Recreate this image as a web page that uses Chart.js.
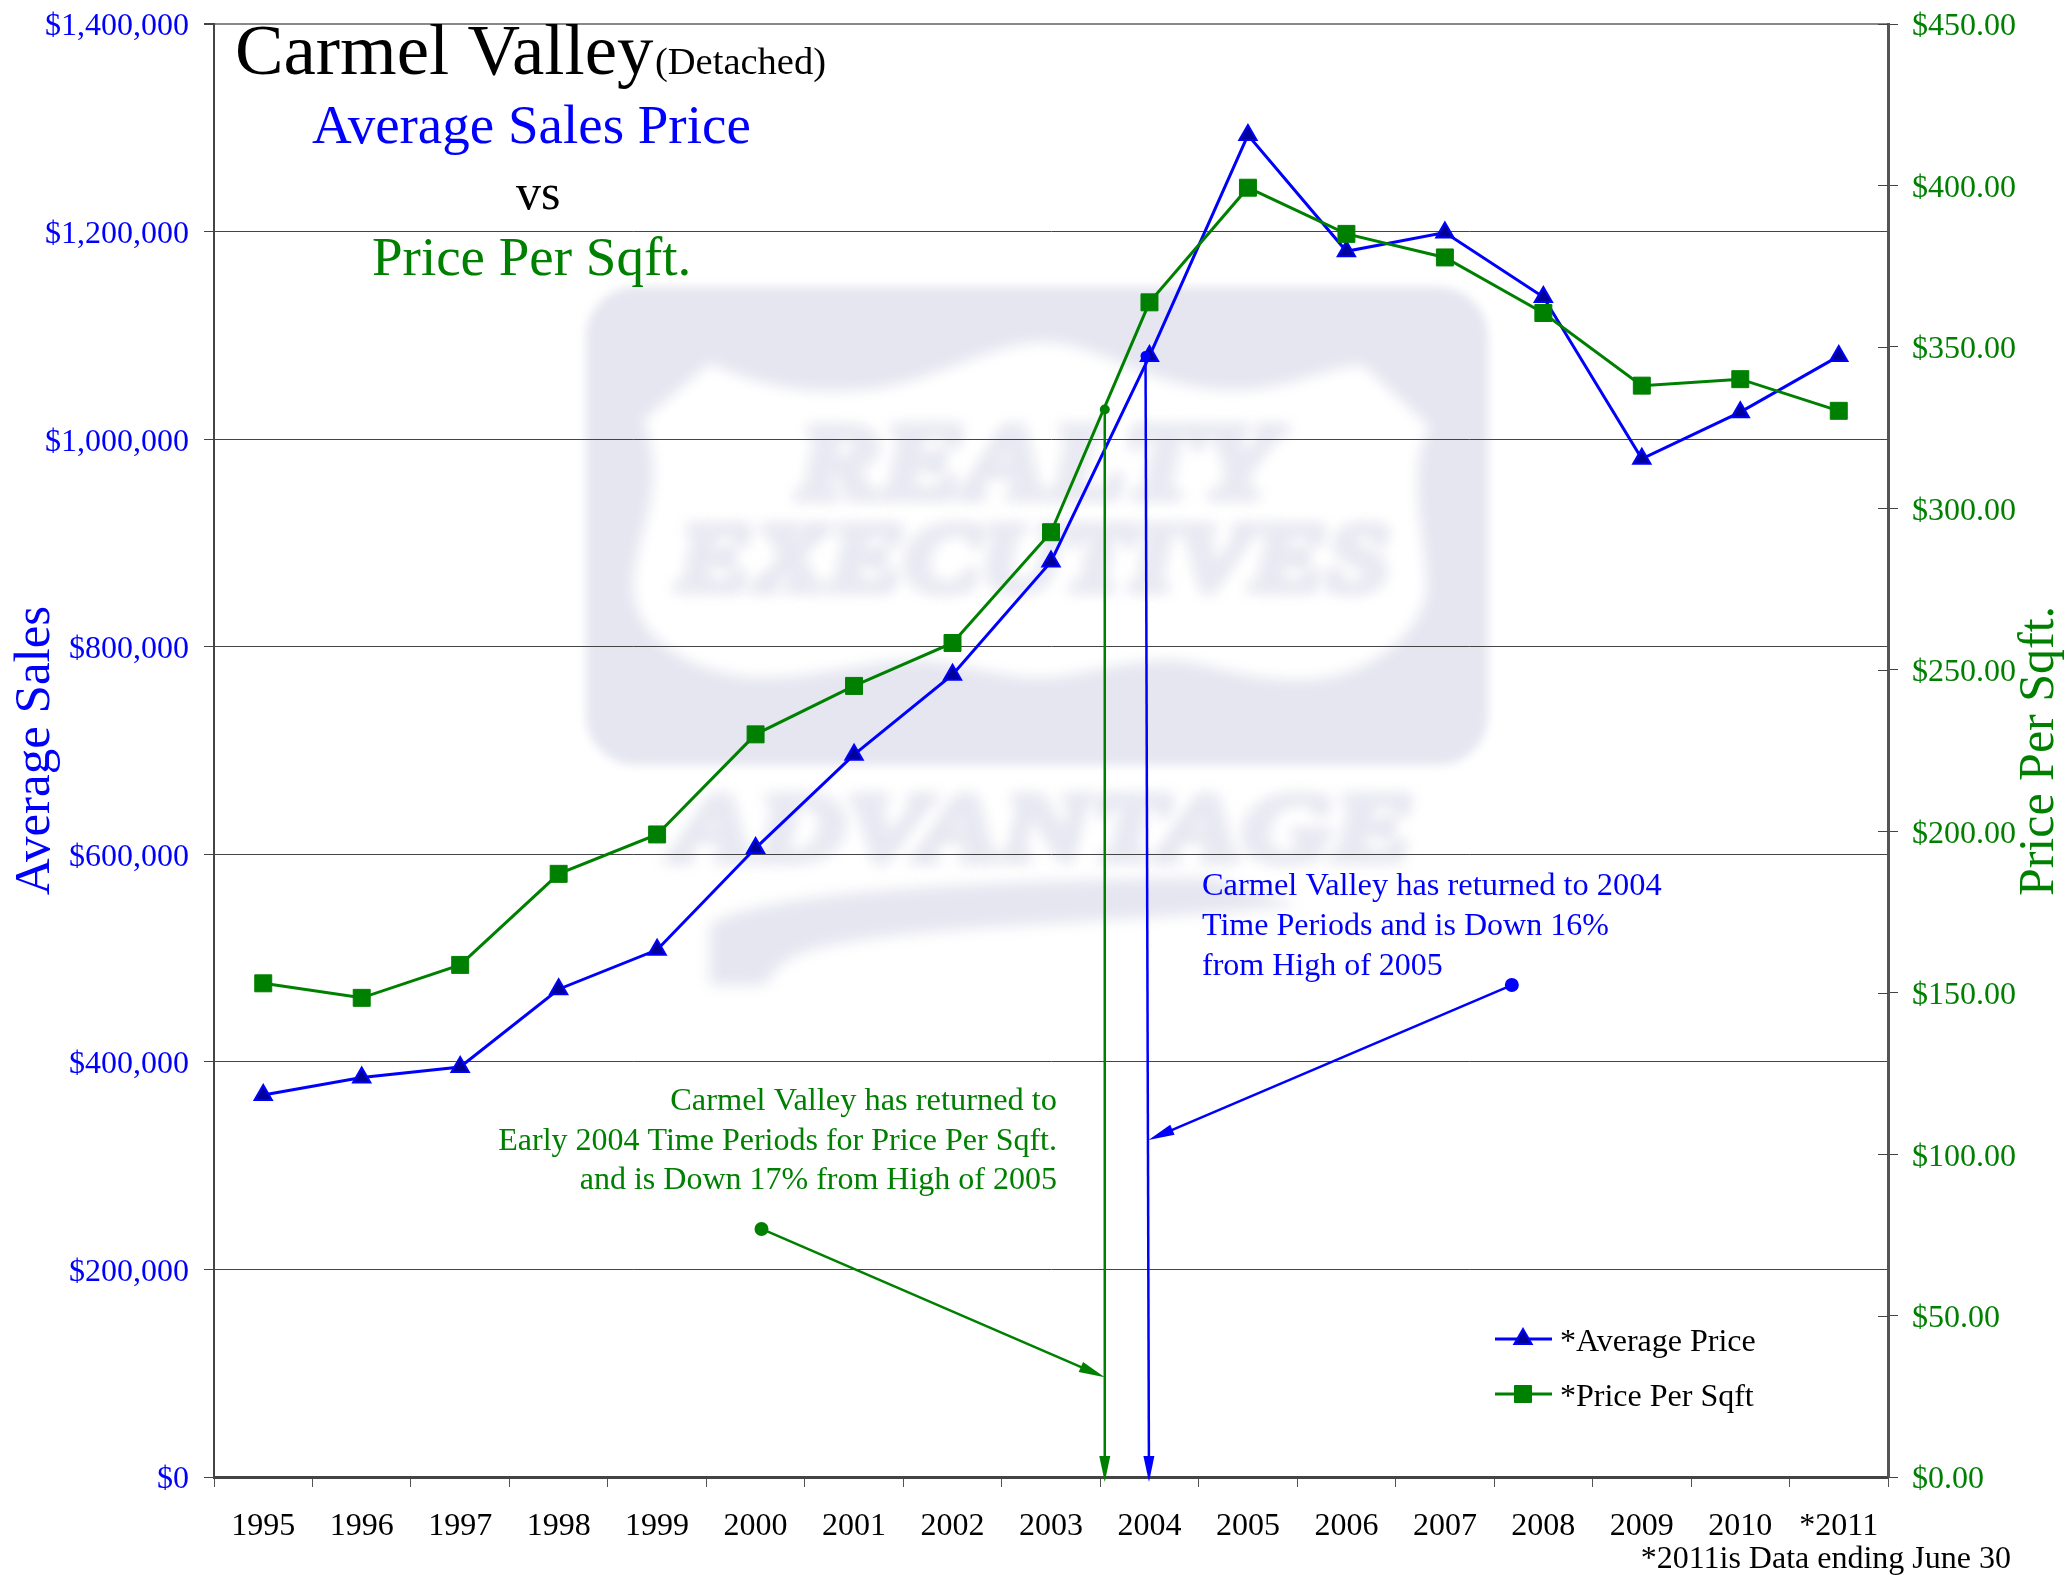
<!DOCTYPE html>
<html lang="en">
<head>
    <meta charset="UTF-8">
    <title>Carmel Valley (Detached)</title>
    <style>
        html, body { margin: 0; padding: 0; background: #fff; }
        canvas { display: block; }
    </style>
    <script src="https://cdn.jsdelivr.net/npm/chart.js"></script>
</head>
<body>
    <canvas id="chart" width="2070" height="1575"></canvas>

    <script>
        const years = ['1995', '1996', '1997', '1998', '1999', '2000', '2001', '2002', '2003', '2004', '2005', '2006', '2007', '2008', '2009', '2010', '*2011'];
        const avgPrice = [368000, 385000, 395000, 470000, 508000, 606000, 696000, 773000, 882000, 1080000, 1293000, 1181000, 1199000, 1137000, 981000, 1026000, 1080000];
        const pricePerSqft = [152.9, 148.4, 158.6, 186.8, 199, 230, 245, 258.3, 292.6, 363.8, 399.3, 385, 377.7, 360.5, 338, 340, 330.2];

        // arrows as [category index, left axis value]
        const greenDiagonal = [[5.06, 239000], [8.546, 96000]];
        const greenVertical = [[8.546, 1028600], [8.546, -4800]];
        const blueDiagonal = [[12.68, 474000], [8.99, 324700]];
        const blueVertical = [[8.96, 1080000], [8.995, -4800]];

        const BLUE = '#0000ff';
        const GREEN = '#008000';
        const SERIF = '"Liberation Serif"';

        // text, x, y, size, color, align
        const labels = [
            ['Carmel Valley', 235, 74, 72.8, '#000', 'left'],
            ['(Detached)', 655, 74, 38.5, '#000', 'left'],
            ['Average Sales Price', 312, 143, 55, BLUE, 'left'],
            ['vs', 516, 209, 50, '#000', 'left'],
            ['Price Per Sqft.', 372, 275, 55, GREEN, 'left'],
            ['Carmel Valley has returned to 2004', 1202, 895, 32.4, BLUE, 'left'],
            ['Time Periods and is Down 16%', 1202, 935, 32, BLUE, 'left'],
            ['from High of 2005', 1202, 975, 32, BLUE, 'left'],
            ['Carmel Valley has returned to', 1057, 1110, 32.4, GREEN, 'right'],
            ['Early 2004 Time Periods for Price Per Sqft.', 1057, 1150, 32, GREEN, 'right'],
            ['and is Down 17% from High of 2005', 1057, 1189, 32, GREEN, 'right'],
            ['*Average Price', 1560, 1351, 32, '#000', 'left'],
            ['*Price Per Sqft', 1560, 1406, 32, '#000', 'left'],
            ['*2011is Data ending June 30', 2011, 1568, 32, '#000', 'right']
        ];

        function drawLogo(ctx) {
            ctx.save();
            ctx.filter = 'blur(5px)';
            ctx.fillStyle = '#e5e6f0';
            ctx.beginPath();
            ctx.roundRect(586, 287, 902, 478, 50);
            ctx.fill();

            // white shield
            ctx.filter = 'blur(7px)';
            ctx.fillStyle = '#fff';
            ctx.beginPath();
            ctx.moveTo(643, 420);
            ctx.lineTo(710, 363);
            ctx.bezierCurveTo(770, 392, 820, 392, 860, 390);
            ctx.bezierCurveTo(930, 385, 990, 342, 1043, 342);
            ctx.bezierCurveTo(1100, 342, 1150, 390, 1233, 390);
            ctx.bezierCurveTo(1290, 390, 1330, 365, 1363, 365);
            ctx.lineTo(1430, 427);
            ctx.bezierCurveTo(1405, 470, 1425, 530, 1427, 587);
            ctx.bezierCurveTo(1425, 630, 1370, 680, 1300, 680);
            ctx.bezierCurveTo(1240, 680, 1210, 662, 1170, 660);
            ctx.bezierCurveTo(1110, 662, 1075, 678, 1040, 678);
            ctx.bezierCurveTo(1000, 678, 960, 662, 915, 660);
            ctx.bezierCurveTo(860, 662, 810, 680, 747, 677);
            ctx.bezierCurveTo(690, 670, 635, 640, 633, 587);
            ctx.bezierCurveTo(635, 530, 670, 490, 643, 420);
            ctx.closePath();
            ctx.fill();

            // logo lettering
            ctx.filter = 'blur(7px)';
            ctx.fillStyle = '#e5e6f0';
            ctx.strokeStyle = '#e5e6f0';
            ctx.lineWidth = 5;
            ctx.textAlign = 'left';
            ctx.textBaseline = 'alphabetic';
            fitText(ctx, 'REALTY', 797, 497, 480, 105);
            fitText(ctx, 'EXECUTIVES', 677, 590, 713, 95);
            fitText(ctx, 'ADVANTAGE', 673, 860, 741, 95);

            // swoosh under the lettering
            ctx.beginPath();
            ctx.moveTo(710, 985);
            ctx.lineTo(710, 925);
            ctx.bezierCurveTo(760, 890, 1000, 880, 1210, 878);
            ctx.lineTo(1300, 905);
            ctx.bezierCurveTo(1100, 925, 900, 925, 810, 950);
            ctx.bezierCurveTo(780, 960, 770, 975, 765, 985);
            ctx.closePath();
            ctx.fill();
            ctx.restore();
        }

        function fitText(ctx, text, x, y, width, size) {
            ctx.font = `italic bold ${size}px ${SERIF}`;
            const w = ctx.measureText(text).width;
            ctx.save();
            ctx.translate(x, y);
            ctx.scale(width / w, 1);
            ctx.strokeText(text, 0, 0);
            ctx.fillText(text, 0, 0);
            ctx.restore();
        }

        function drawArrow(chart, pts, color, startDot, width) {
            const { ctx, scales } = chart;
            // category scale takes a fractional index
            const x = i => scales.x.getPixelForValue(0) + i * (scales.x.getPixelForValue(1) - scales.x.getPixelForValue(0));
            const x0 = x(pts[0][0]), y0 = scales.y.getPixelForValue(pts[0][1]);
            const x1 = x(pts[1][0]), y1 = scales.y.getPixelForValue(pts[1][1]);
            const a = Math.atan2(y1 - y0, x1 - x0);
            ctx.save();
            ctx.strokeStyle = color;
            ctx.fillStyle = color;
            ctx.lineWidth = width;
            ctx.beginPath();
            ctx.moveTo(x0, y0);
            ctx.lineTo(x1 - 15 * Math.cos(a), y1 - 15 * Math.sin(a));
            ctx.stroke();
            ctx.beginPath();
            ctx.moveTo(x1, y1);
            ctx.lineTo(x1 - 26 * Math.cos(a) - 5.5 * Math.sin(a), y1 - 26 * Math.sin(a) + 5.5 * Math.cos(a));
            ctx.lineTo(x1 - 26 * Math.cos(a) + 5.5 * Math.sin(a), y1 - 26 * Math.sin(a) - 5.5 * Math.cos(a));
            ctx.closePath();
            ctx.fill();
            if (startDot) {
                ctx.beginPath();
                ctx.arc(x0, y0, startDot, 0, Math.PI * 2);
                ctx.fill();
            }
            ctx.restore();
        }

        function drawLegendKey(ctx, y, color, fill, marker) {
            ctx.save();
            ctx.strokeStyle = color;
            ctx.lineWidth = 3;
            ctx.beginPath();
            ctx.moveTo(1495, y);
            ctx.lineTo(1552, y);
            ctx.stroke();
            ctx.fillStyle = fill;
            ctx.lineWidth = marker.borderWidth;
            Chart.helpers.drawPoint(ctx, marker, 1523, y);
            ctx.restore();
        }

        const extras = {
            id: 'extras',
            beforeDraw(chart) {
                drawLogo(chart.ctx);
                // digits sit centred on the tick in the original
                [chart.scales.y, chart.scales.y1].forEach(s => {
                    s.getLabelItems().forEach(item => { item.textOffset += 3; });
                });
            },
            afterDraw(chart) {
                const ctx = chart.ctx;
                drawArrow(chart, greenDiagonal, GREEN, 7, 2.5);
                drawArrow(chart, greenVertical, GREEN, 5, 2.5);
                drawArrow(chart, blueDiagonal, BLUE, 7, 2.5);
                drawArrow(chart, blueVertical, BLUE, 5, 2.5);

                // right axis ticks also run inward
                const y1 = chart.scales.y1;
                ctx.save();
                ctx.strokeStyle = '#444';
                ctx.lineWidth = 1;
                y1.ticks.forEach(t => {
                    const py = Math.round(y1.getPixelForValue(t.value)) + 0.5;
                    ctx.beginPath();
                    ctx.moveTo(y1.left - 10, py);
                    ctx.lineTo(y1.left, py);
                    ctx.stroke();
                });
                ctx.restore();

                drawLegendKey(ctx, 1339, BLUE, '#00009a', { pointStyle: 'triangle', radius: 10, borderWidth: 2, rotation: 0 });
                drawLegendKey(ctx, 1394, GREEN, GREEN, { pointStyle: 'rect', radius: 12, borderWidth: 1, rotation: 0 });

                ctx.save();
                ctx.textBaseline = 'alphabetic';
                labels.forEach(([text, x, y, size, color, align]) => {
                    ctx.font = `${size}px ${SERIF}`;
                    ctx.fillStyle = color;
                    ctx.textAlign = align;
                    ctx.fillText(text, x, y);
                });

                // right axis title reads upward in the original, the library turns it the other way
                ctx.translate(2053, 751);
                ctx.rotate(-Math.PI / 2);
                ctx.font = `50px ${SERIF}`;
                ctx.fillStyle = GREEN;
                ctx.textAlign = 'center';
                ctx.fillText('Price Per Sqft.', 0, 0);
                ctx.restore();
            }
        };

        Chart.defaults.font.family = SERIF;
        Chart.defaults.font.size = 32;

        new Chart(document.getElementById('chart'), {
            type: 'line',
            data: {
                labels: years,
                datasets: [
                    {
                        label: '*Average Price',
                        data: avgPrice,
                        yAxisID: 'y',
                        borderColor: BLUE,
                        borderWidth: 3,
                        tension: 0,
                        pointStyle: 'triangle',
                        pointRadius: 10,
                        pointBackgroundColor: '#00009a',
                        pointBorderColor: BLUE,
                        pointBorderWidth: 2,
                        order: 2
                    },
                    {
                        label: '*Price Per Sqft',
                        data: pricePerSqft,
                        yAxisID: 'y1',
                        borderColor: GREEN,
                        borderWidth: 3,
                        tension: 0,
                        pointStyle: 'rect',
                        pointRadius: 12,
                        pointBackgroundColor: GREEN,
                        pointBorderColor: GREEN,
                        pointBorderWidth: 1,
                        order: 1
                    }
                ]
            },
            options: {
                responsive: false,
                animation: false,
                layout: { padding: { top: 24 } },
                plugins: { legend: { display: false }, tooltip: { enabled: false } },
                scales: {
                    x: {
                        offset: true,
                        afterFit(s) { s.height = 98; },
                        grid: { offset: true, drawOnChartArea: false, tickLength: 10, tickColor: '#555' },
                        border: { color: '#444', width: 3 },
                        ticks: { color: '#000', maxRotation: 0, autoSkip: false, padding: 20 }
                    },
                    y: {
                        position: 'left',
                        min: 0,
                        max: 1400000,
                        afterFit(s) { s.width = 214; s.paddingTop = 0; s.paddingBottom = 0; },
                        title: { display: true, text: 'Average Sales', color: BLUE, font: { size: 51 }, padding: { top: 5, bottom: 0 } },
                        grid: {
                            color: c => c.tick && c.tick.value === 1400000 ? '#888' : '#444',
                            lineWidth: c => c.tick && c.tick.value === 1400000 ? 2 : 1,
                            tickColor: '#444',
                            tickLength: 10
                        },
                        border: { color: '#444', width: 2 },
                        ticks: {
                            stepSize: 200000,
                            color: BLUE,
                            padding: 15,
                            callback: v => '$' + v.toLocaleString('en-US')
                        }
                    },
                    y1: {
                        position: 'right',
                        min: 0,
                        max: 450,
                        afterFit(s) { s.width = 182; s.paddingTop = 0; s.paddingBottom = 0; },
                        grid: { drawOnChartArea: false, tickColor: '#444', tickLength: 10 },
                        border: { color: '#555', width: 3 },
                        ticks: {
                            stepSize: 50,
                            color: GREEN,
                            padding: 14,
                            callback: v => '$' + v.toFixed(2)
                        }
                    }
                }
            },
            plugins: [extras]
        });
    </script>
</body>
</html>
